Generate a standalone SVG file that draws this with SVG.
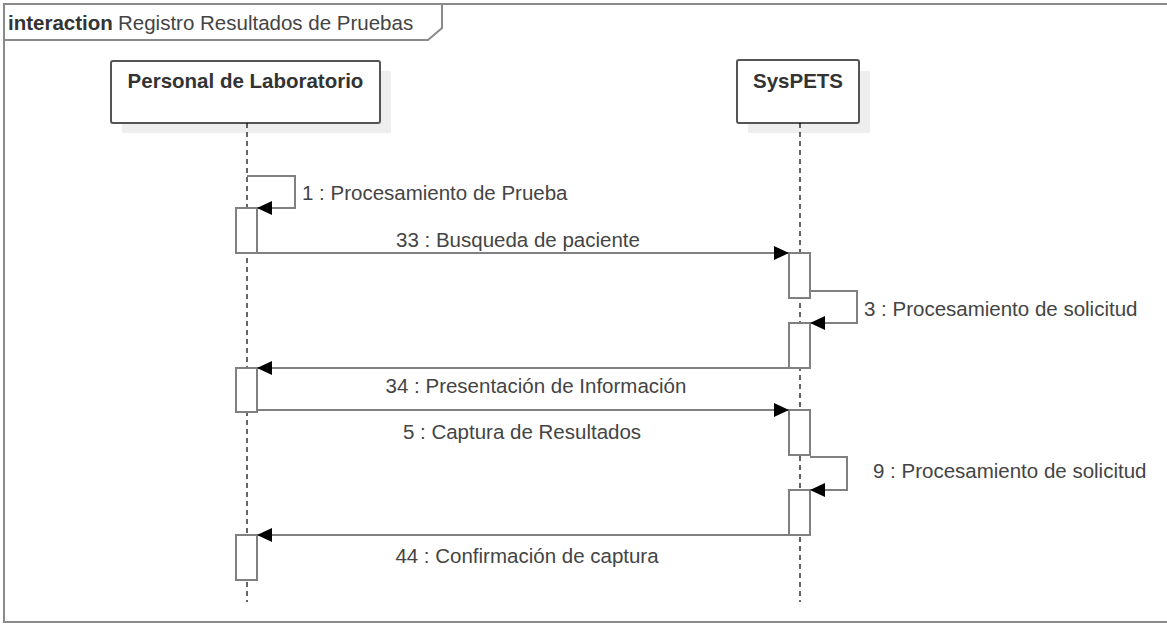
<svg xmlns="http://www.w3.org/2000/svg" width="1167" height="624" viewBox="0 0 1167 624">
<style>
.frame{fill:none;stroke:#8a8a8a;stroke-width:2}
.head{fill:#fff;stroke:#555;stroke-width:2}
.shadow{fill:#eeeeee}
.ll{stroke:#000;stroke-width:1.2;stroke-dasharray:5 4;fill:none}
.act{fill:#fff;stroke:#808080;stroke-width:2}
.msg{fill:none;stroke:#808080;stroke-width:2}
.t{font-family:"Liberation Sans",Arial,sans-serif;font-size:20.5px;fill:#444}
.b{font-weight:bold;fill:#333}
</style>
<defs>
<marker id="arr" markerUnits="userSpaceOnUse" markerWidth="16" markerHeight="14" refX="15" refY="7" orient="auto">
<path d="M0,0 L15,7 L0,14 Z" fill="#000"/>
</marker>
</defs>
<rect x="0" y="0" width="1167" height="624" fill="#fff"/>
<g id="frame">
<rect class="frame" x="4" y="4" width="1170" height="618"/>
<path class="frame" d="M4,40 H428 L442,28 V4"/>
<text class="t b" x="8" y="30" fill="#222">interaction</text>
<text class="t" x="118" y="30">Registro Resultados de Pruebas</text>
</g>
<g id="personal">
<rect class="shadow" x="122" y="71" width="269" height="62"/>
<rect class="head" x="111" y="61" width="269" height="62" rx="2"/>
<text class="t b" x="245.5" y="88" text-anchor="middle">Personal de Laboratorio</text>
<line class="ll" x1="247" y1="123" x2="247" y2="602"/>
</g>
<g id="syspets">
<rect class="shadow" x="748" y="71" width="122" height="62"/>
<rect class="head" x="737" y="60" width="122" height="63" rx="2"/>
<text class="t b" x="798" y="88" text-anchor="middle">SysPETS</text>
<line class="ll" x1="800" y1="123" x2="800" y2="602"/>
</g>
<g id="activations">
<rect class="act" x="236" y="208" width="21" height="45"/>
<rect class="act" x="236" y="368" width="21" height="44"/>
<rect class="act" x="236" y="535" width="21" height="45"/>
<rect class="act" x="789" y="253" width="21" height="45"/>
<rect class="act" x="789" y="323" width="21" height="45"/>
<rect class="act" x="789" y="410" width="21" height="45"/>
<rect class="act" x="789" y="490" width="21" height="45"/>
</g>
<g id="connectors">
<path class="msg" d="M247,176 H295 V208 H257" marker-end="url(#arr)"/>
<path class="msg" d="M257,253 H789" marker-end="url(#arr)"/>
<path class="msg" d="M810,291 H857 V323 H810" marker-end="url(#arr)"/>
<path class="msg" d="M789,368 H257" marker-end="url(#arr)"/>
<path class="msg" d="M257,410 H789" marker-end="url(#arr)"/>
<path class="msg" d="M810,457 H847 V490 H810" marker-end="url(#arr)"/>
<path class="msg" d="M789,535 H257" marker-end="url(#arr)"/>
</g>
<g id="labels">
<text class="t" x="302" y="200">1 : Procesamiento de Prueba</text>
<text class="t" x="518" y="247" text-anchor="middle">33 : Busqueda de paciente</text>
<text class="t" x="864" y="316">3 : Procesamiento de solicitud</text>
<text class="t" x="536" y="393" text-anchor="middle">34 : Presentación de Información</text>
<text class="t" x="522" y="439" text-anchor="middle">5 : Captura de Resultados</text>
<text class="t" x="873" y="478">9 : Procesamiento de solicitud</text>
<text class="t" x="527" y="563" text-anchor="middle">44 : Confirmación de captura</text>
</g>
</svg>
